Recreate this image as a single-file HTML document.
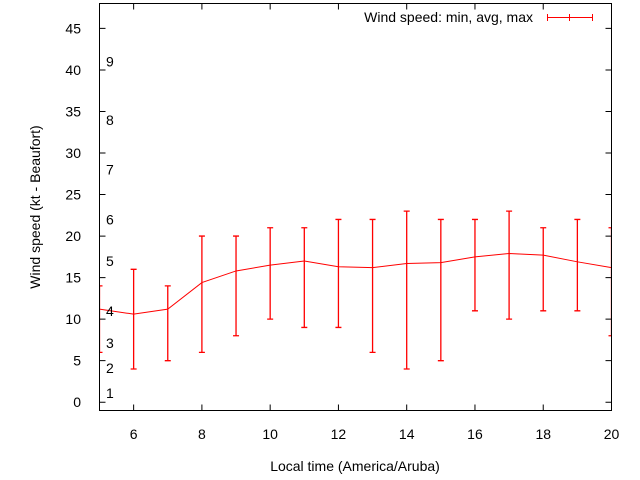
<!DOCTYPE html>
<html><head><meta charset="utf-8"><style>
body{margin:0;background:#fff}
svg{display:block;font-family:"Liberation Sans",sans-serif;font-size:14px}
</style></head><body>
<svg id="c" width="640" height="480" xmlns="http://www.w3.org/2000/svg">
<defs><clipPath id="clip"><rect x="99" y="3" width="513" height="408"/></clipPath></defs>
<g id="series" clip-path="url(#clip)"></g>
<rect x="99.5" y="3.5" width="512" height="407" fill="none" stroke="#000"/>
<g id="ticks"></g>
<text x="355" y="471" text-anchor="middle">Local time (America/Aruba)</text>
<text transform="translate(40,207) rotate(-90)" text-anchor="middle">Wind speed (kt - Beaufort)</text>
<g>
<text x="533" y="22" text-anchor="end">Wind speed: min, avg, max</text>
<path d="M547 17.5H592M547.5 14V21M569.5 14V21M592.5 14V21" stroke="#f00" fill="none"/>
</g>
</svg>
<script>
const hours=[5,6,7,8,9,10,11,12,13,14,15,16,17,18,19,20];
const avgSpeed=[11.2,10.6,11.2,14.4,15.8,16.5,17,16.3,16.2,16.7,16.8,17.5,17.9,17.7,16.9,16.2];
const minSpeed=[6,4,5,6,8,10,9,9,6,4,5,11,10,11,11,8];
const maxSpeed=[14,16,14,20,20,21,21,22,22,23,22,22,23,21,22,21];
const xTicks=[6,8,10,12,14,16,18,20];
const yTicks=[0,5,10,15,20,25,30,35,40,45];
const beaufortLabels=["1","2","3","4","5","6","7","8","9"];
const beaufortValues=[1.1,4.1,7.1,11,17,22,28,34,41];
const NS="http://www.w3.org/2000/svg";
const X0=99.5,X1=611.5,Y0=410.5,Y1=3.5,xmin=5,xmax=20,ymin=-1,ymax=48;
const sx=v=>X0+(v-xmin)/(xmax-xmin)*(X1-X0);
const sy=v=>Y0-(v-ymin)/(ymax-ymin)*(Y0-Y1);
function mk(tag,a,p){const e=document.createElementNS(NS,tag);for(const k in a)e.setAttribute(k,a[k]);p.appendChild(e);return e;}
const tg=document.getElementById('ticks'),sg=document.getElementById('series');
xTicks.forEach(t=>{const x=sx(t);
const l=mk('path',{d:`M${x} ${Y0}v-6M${x} ${Y1}v6`,stroke:'#000',fill:'none'},tg);


const tx=mk('text',{x:x,y:439,'text-anchor':'middle'},tg);tx.textContent=t;

});
yTicks.forEach(t=>{const y=sy(t);
const l=mk('path',{d:`M${X0} ${y}h6M${X1} ${y}h-6`,stroke:'#000',fill:'none'},tg);


const tx=mk('text',{x:81,y:y+5,'text-anchor':'end'},tg);tx.textContent=t;

});
beaufortLabels.forEach((b,i)=>{const tx=mk('text',{x:106,y:sy(beaufortValues[i])+5},tg);tx.textContent=b;

});
hours.forEach((h,i)=>{const x=sx(h),a=sy(maxSpeed[i]),b=sy(minSpeed[i]);
const e=mk('path',{d:`M${x} ${a}V${b}M${x-3} ${a}h6M${x-3} ${b}h6`,stroke:'#f00',fill:'none','stroke-width':1.3},sg);

});
const ln=mk('polyline',{points:hours.map((h,i)=>sx(h)+','+sy(avgSpeed[i])).join(' '),stroke:'#f00',fill:'none'},sg);


</script>
</body></html>
